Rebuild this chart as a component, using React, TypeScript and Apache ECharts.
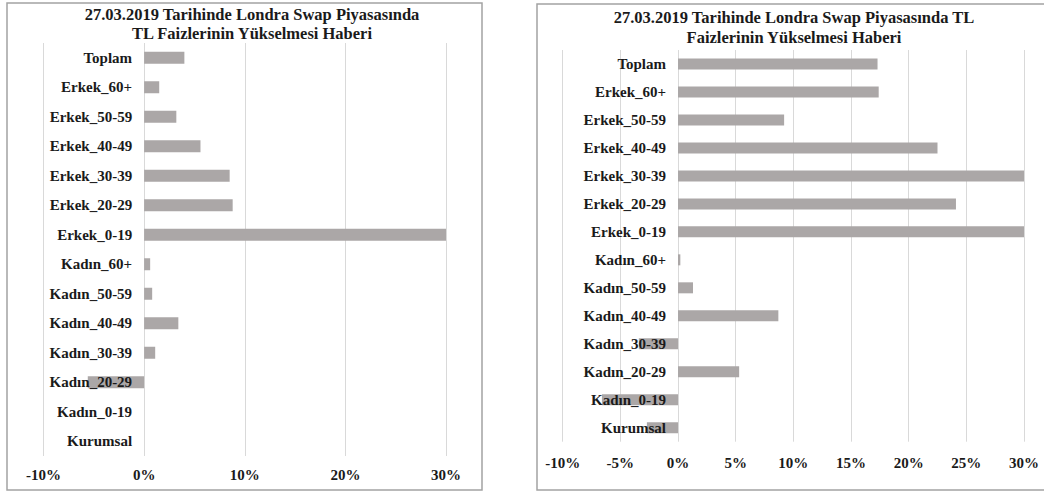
import React, { useEffect, useRef } from "react";
import * as echarts from "echarts";

const categories = [
  "Toplam",
  "Erkek_60+",
  "Erkek_50-59",
  "Erkek_40-49",
  "Erkek_30-39",
  "Erkek_20-29",
  "Erkek_0-19",
  "Kadın_60+",
  "Kadın_50-59",
  "Kadın_40-49",
  "Kadın_30-39",
  "Kadın_20-29",
  "Kadın_0-19",
  "Kurumsal",
];

const leftValues = [4.0, 1.5, 3.2, 5.6, 8.5, 8.8, 30, 0.6, 0.8, 3.4, 1.1, -5.6, 0, 0];
const rightValues = [17.3, 17.4, 9.2, 22.5, 30, 24.1, 30, 0.2, 1.3, 8.7, -3.4, 5.3, -6.6, -2.7];

const leftTitle = "27.03.2019 Tarihinde Londra Swap Piyasasında\nTL Faizlerinin Yükselmesi Haberi";
const rightTitle = "27.03.2019 Tarihinde Londra Swap Piyasasında TL\nFaizlerinin Yükselmesi Haberi";

const leftTicks = { min: -10, max: 30, interval: 10 };
const rightTicks = { min: -10, max: 30, interval: 5 };

const FONT = "Liberation Serif";
const BAR = "#aba7a7";
const GRID = "#d9d9d9";
const BORDER = "#a3a3a3";
const TEXT = "#1a1a1a";

export default function App() {
  const ref = useRef<HTMLDivElement>(null);

  useEffect(() => {
    if (!ref.current) return;
    const chart = echarts.init(ref.current, null, { renderer: "svg" });

    const xAxisBase = (idx: number, t: { min: number; max: number; interval: number }, margin: number) => ({
      type: "value",
      gridIndex: idx,
      min: t.min,
      max: t.max,
      interval: t.interval,
      position: "bottom",
      axisLine: { show: false, onZero: false },
      axisTick: { show: false },
      splitLine: { show: true, lineStyle: { color: GRID, width: 1 } },
      axisLabel: {
        margin,
        formatter: (v: number) => `${v}%`,
        fontFamily: FONT,
        fontWeight: "bold",
        fontSize: 15,
        color: TEXT,
      },
    });

    const yAxisBase = (idx: number) => ({
      type: "category",
      gridIndex: idx,
      data: categories,
      inverse: true,
      axisLine: { show: false },
      axisTick: { show: false },
      splitLine: { show: false },
      axisLabel: { show: false },
    });

    // helper series: zero-length bars whose labels sit left of the 0% line
    const labelSeries = (idx: number, width: number) => ({
      type: "bar",
      xAxisIndex: idx,
      yAxisIndex: idx,
      data: categories.map(() => 0),
      barWidth: width,
      barGap: "-100%",
      z: 5,
      silent: true,
      itemStyle: { color: "rgba(0,0,0,0)" },
      label: {
        show: true,
        position: "left",
        distance: 12,
        formatter: "{b}",
        fontFamily: FONT,
        fontWeight: "bold",
        fontSize: 15,
        color: TEXT,
      },
    });

    chart.setOption({
      animation: false,
      backgroundColor: "#ffffff",
      grid: [
        { left: 43.5, top: 43, width: 402.5, height: 413, containLabel: false, outerBoundsMode: "none" },
        { left: 562.7, top: 50, width: 461.3, height: 391.7, containLabel: false, outerBoundsMode: "none" },
      ],
      xAxis: [xAxisBase(0, leftTicks, 11), xAxisBase(1, rightTicks, 14)],
      yAxis: [yAxisBase(0), yAxisBase(1)],
      series: [
        {
          type: "bar",
          xAxisIndex: 0,
          yAxisIndex: 0,
          data: leftValues,
          barWidth: 12,
          itemStyle: { color: BAR },
        },
        labelSeries(0, 12),
        {
          type: "bar",
          xAxisIndex: 1,
          yAxisIndex: 1,
          data: rightValues,
          barWidth: 11,
          itemStyle: { color: BAR },
        },
        labelSeries(1, 11),
      ],
      graphic: [
        {
          type: "rect",
          shape: { x: 7, y: 3, width: 475, height: 487 },
          style: { fill: "none", stroke: BORDER, lineWidth: 1.5 },
          z: 0,
        },
        {
          type: "rect",
          shape: { x: 537, y: 4, width: 520, height: 486 },
          style: { fill: "none", stroke: BORDER, lineWidth: 1.5 },
          z: 0,
        },
        {
          type: "text",
          x: 252,
          y: 5,
          style: {
            text: leftTitle,
            fontFamily: FONT,
            fontWeight: "bold",
            fontSize: 16.5,
            lineHeight: 19,
            fill: TEXT,
            textAlign: "center",
            textVerticalAlign: "top",
          },
        },
        {
          type: "text",
          x: 794,
          y: 7,
          style: {
            text: rightTitle,
            fontFamily: FONT,
            fontWeight: "bold",
            fontSize: 16.5,
            lineHeight: 20,
            fill: TEXT,
            textAlign: "center",
            textVerticalAlign: "top",
          },
        },
      ],
    });

    return () => chart.dispose();
  }, []);

  return (
    <div
      ref={ref}
      style={{ position: "fixed", left: 0, top: 0, width: 1044, height: 492, background: "#fff" }}
    />
  );
}
